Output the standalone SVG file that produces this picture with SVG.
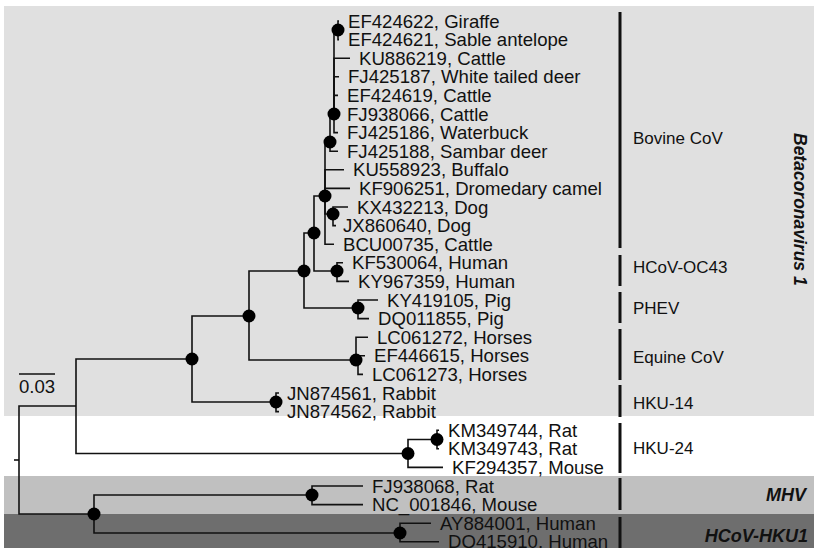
<svg xmlns="http://www.w3.org/2000/svg" width="814" height="548" viewBox="0 0 814 548">
<style>
.lf{font-family:"Liberation Sans",Arial,sans-serif;font-size:18.6px;fill:#111}
.cl{font-family:"Liberation Sans",Arial,sans-serif;font-size:17px;fill:#111}
.bi{font-family:"Liberation Sans",Arial,sans-serif;font-size:18px;font-weight:bold;font-style:italic;fill:#111}
.br{fill:none;stroke:#111;stroke-width:1.6}
.bar{stroke:#111;stroke-width:3}
.dot{fill:#000}
</style>
<rect x="0" y="0" width="814" height="548" fill="#fff"/>
<rect x="4" y="6" width="810" height="410" fill="#e0e0e0"/>
<rect x="4" y="476" width="810" height="38" fill="#c0c0c0"/>
<rect x="4" y="514" width="810" height="34" fill="#6e6e6e"/>

<g id="connectors" class="br">
<path d="M14 460H19"/>
<path d="M19 460V406H76"/>
<path d="M19 460V514H94"/>
<path d="M76 406V359H192"/>
<path d="M76 406V453.5H408"/>
<path d="M192 359V316H249"/>
<path d="M192 359V402H276"/>
<path d="M249 316V271H304"/>
<path d="M249 316V360H356"/>
<path d="M304 271V233H314"/>
<path d="M304 271V308H358"/>
<path d="M314 233V196H325"/>
<path d="M314 233V271H337"/>
<path d="M325 196V142H330"/>
<path d="M325 196V214H333"/>
<path d="M330 142V114H334"/>
<path d="M334 114V30H338"/>
<path d="M356 360V365H358"/>
<path d="M408 453.5V439.5H437"/>
<path d="M94 514V495H312"/>
<path d="M94 514V533H400"/>
<!-- leaves -->
<path d="M338 30V21H339"/>
<path d="M338 30V39.6H339"/>
<path d="M334 114V58.2H350"/>
<path d="M334 114V76.8H339"/>
<path d="M334 114V95.4H338"/>
<path d="M334 114H338"/>
<path d="M334 114V132.6H338"/>
<path d="M330 142V151.2H338"/>
<path d="M325 196V169.8H344"/>
<path d="M325 196V188.4H350"/>
<path d="M333 214V207H348"/>
<path d="M333 214V225.6H336"/>
<path d="M325 196V244.2H334"/>
<path d="M337 271V262.8H343"/>
<path d="M337 271V281.4H349"/>
<path d="M358 308V300H378"/>
<path d="M358 308V318.6H369"/>
<path d="M356 360V337.2H368"/>
<path d="M358 365V355.8H365"/>
<path d="M358 365V374.4H363"/>
<path d="M276 402V393H279"/>
<path d="M276 402V411.6H279"/>
<path d="M437 439.5V430.2H439"/>
<path d="M437 439.5V448.8H439"/>
<path d="M408 453.5V467.4H443"/>
<path d="M312 495V486H363"/>
<path d="M312 495V504.6H363"/>
<path d="M400 533V523.2H431"/>
<path d="M400 533V541.8H439"/>
</g>

<g id="internal-nodes">
<circle id="n-b5" class="dot" cx="338" cy="30" r="6.5"/>
<circle id="n-b4" class="dot" cx="334" cy="114" r="6.5"/>
<circle id="n-b2" class="dot" cx="330" cy="142" r="6.5"/>
<circle id="n-b1" class="dot" cx="325" cy="196" r="6.5"/>
<circle id="n-b3" class="dot" cx="333" cy="214" r="6.5"/>
<circle id="n-b0" class="dot" cx="314" cy="233" r="6.5"/>
<circle id="n-304" class="dot" cx="304" cy="271" r="6.5"/>
<circle id="n-oc43" class="dot" cx="337" cy="271" r="6.5"/>
<circle id="n-phev" class="dot" cx="358" cy="308" r="6.5"/>
<circle id="n-249" class="dot" cx="249" cy="316" r="6.5"/>
<circle id="n-equine" class="dot" cx="356" cy="360" r="6.5"/>
<circle id="n-beta1" class="dot" cx="192" cy="359" r="6.5"/>
<circle id="n-hku14" class="dot" cx="276" cy="402" r="6.5"/>
<circle id="n-km" class="dot" cx="437" cy="439.5" r="6.5"/>
<circle id="n-hku24" class="dot" cx="408" cy="453.5" r="6.5"/>
<circle id="n-mhv" class="dot" cx="312" cy="495" r="6.5"/>
<circle id="n-94" class="dot" cx="94" cy="514" r="6.5"/>
<circle id="n-hku1" class="dot" cx="400" cy="533" r="6.5"/>
</g>

<g id="leaf-labels" class="lf">
<g id="L0"><text x="348" y="27.5">EF424622, Giraffe</text></g>
<g id="L1"><text x="348" y="46.1">EF424621, Sable antelope</text></g>
<g id="L2"><text x="359" y="64.7">KU886219, Cattle</text></g>
<g id="L3"><text x="348" y="83.3">FJ425187, White tailed deer</text></g>
<g id="L4"><text x="347" y="101.9">EF424619, Cattle</text></g>
<g id="L5"><text x="347" y="120.5">FJ938066, Cattle</text></g>
<g id="L6"><text x="347" y="139.1">FJ425186, Waterbuck</text></g>
<g id="L7"><text x="347" y="157.7">FJ425188, Sambar deer</text></g>
<g id="L8"><text x="353" y="176.3">KU558923, Buffalo</text></g>
<g id="L9"><text x="359" y="194.9">KF906251, Dromedary camel</text></g>
<g id="L10"><text x="357" y="213.5">KX432213, Dog</text></g>
<g id="L11"><text x="343" y="232.1">JX860640, Dog</text></g>
<g id="L12"><text x="343" y="250.7">BCU00735, Cattle</text></g>
<g id="L13"><text x="352" y="269.3">KF530064, Human</text></g>
<g id="L14"><text x="358" y="287.9">KY967359, Human</text></g>
<g id="L15"><text x="387" y="306.5">KY419105, Pig</text></g>
<g id="L16"><text x="378" y="325.1">DQ011855, Pig</text></g>
<g id="L17"><text x="377" y="343.7">LC061272, Horses</text></g>
<g id="L18"><text x="374" y="362.3">EF446615, Horses</text></g>
<g id="L19"><text x="372" y="380.9">LC061273, Horses</text></g>
<g id="L20"><text x="287" y="399.5">JN874561, Rabbit</text></g>
<g id="L21"><text x="287" y="418.1">JN874562, Rabbit</text></g>
<g id="L22"><text x="448" y="436.7">KM349744, Rat</text></g>
<g id="L23"><text x="448" y="455.3">KM349743, Rat</text></g>
<g id="L24"><text x="452" y="473.9">KF294357, Mouse</text></g>
<g id="L25"><text x="372" y="492.5">FJ938068, Rat</text></g>
<g id="L26"><text x="372" y="511.1">NC_001846, Mouse</text></g>
<g id="L27"><text x="440" y="529.7">AY884001, Human</text></g>
<g id="L28"><text x="448" y="548.3">DQ415910, Human</text></g>
</g>

<g id="clade-bars">
<line class="bar" x1="620" y1="12" x2="620" y2="248"/>
<line class="bar" x1="620" y1="255" x2="620" y2="286"/>
<line class="bar" x1="620" y1="292" x2="620" y2="323"/>
<line class="bar" x1="620" y1="329" x2="620" y2="380"/>
<line class="bar" x1="620" y1="385" x2="620" y2="417"/>
<line class="bar" x1="620" y1="423" x2="620" y2="473"/>
<line class="bar" x1="620" y1="478" x2="620" y2="510"/>
<line class="bar" x1="620" y1="517" x2="620" y2="548"/>
</g>

<g id="clade-labels" class="cl">
<g id="c-bovine"><text x="633" y="144">Bovine CoV</text></g>
<g id="c-oc43"><text x="633" y="273">HCoV-OC43</text></g>
<g id="c-phev"><text x="633" y="314">PHEV</text></g>
<g id="c-equine"><text x="633" y="363">Equine CoV</text></g>
<g id="c-hku14"><text x="633" y="409">HKU-14</text></g>
<g id="c-hku24"><text x="633" y="454">HKU-24</text></g>
</g>

<g id="group-labels" class="bi">
<g id="g-beta1"><text transform="translate(793.5,133) rotate(90)" x="0" y="0" font-size="17.5">Betacoronavirus 1</text></g>
<g id="g-mhv"><text x="806" y="500.5" text-anchor="end">MHV</text></g>
<g id="g-hku1"><text x="808" y="541.5" text-anchor="end">HCoV-HKU1</text></g>
</g>

<g id="scale">
<line x1="19" y1="374" x2="55" y2="374" stroke="#111" stroke-width="1.4"/>
<text x="19" y="392.5" class="lf" font-size="18">0.03</text>
</g>
</svg>
